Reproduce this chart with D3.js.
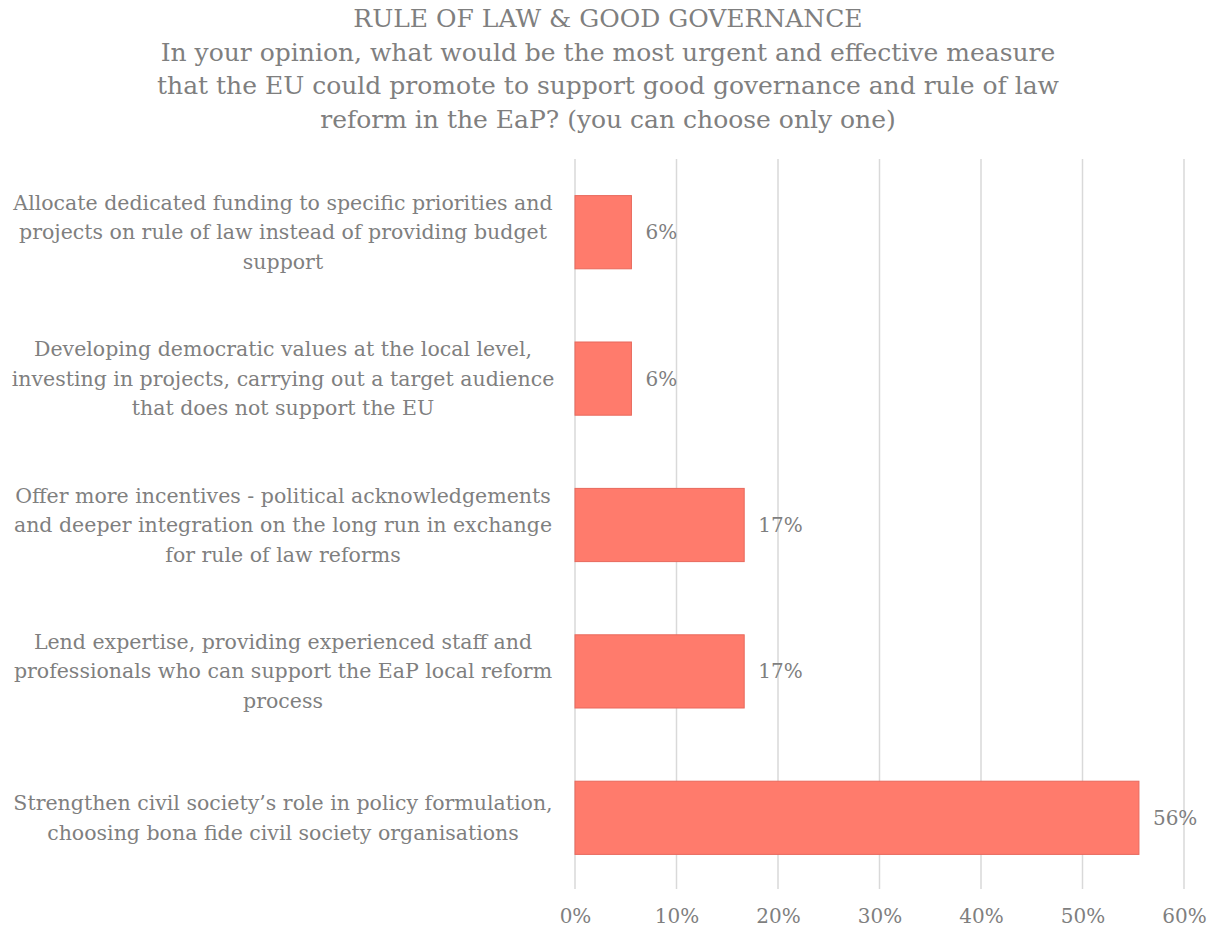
<!DOCTYPE html>
<html><head><meta charset="utf-8">
<script src="https://cdn.jsdelivr.net/npm/d3@7"></script>
<style>body{margin:0;background:#fff}text{font-family:"DejaVu Serif",serif;fill:#7f7f7f}</style>
</head><body><svg id="c" width="1217" height="931"></svg>
<script>
const titleLines = ["RULE OF LAW & GOOD GOVERNANCE","In your opinion, what would be the most urgent and effective measure","that the EU could promote to support good governance and rule of law","reform in the EaP? (you can choose only one)"];
const categories = [
 ["Allocate dedicated funding to specific priorities and","projects on rule of law instead of providing budget","support"],
 ["Developing democratic values at the local level,","investing in projects, carrying out a target audience","that does not support the EU"],
 ["Offer more incentives - political acknowledgements","and deeper integration on the long run in exchange","for rule of law reforms"],
 ["Lend expertise, providing experienced staff and","professionals who can support the EaP local reform","process"],
 ["Strengthen civil society’s role in policy formulation,","choosing bona fide civil society organisations"]
];
const values = [0.0556, 0.0556, 0.1667, 0.1667, 0.5556];
const ticks = [0,0.1,0.2,0.3,0.4,0.5,0.6];

const svg = d3.select("#c");
const x = d3.scaleLinear().domain([0,0.6]).range([575,1184]);
const y = d3.scaleBand().domain(d3.range(categories.length)).range([159,891]).paddingInner(0.5).paddingOuter(0.25);

svg.append("g").selectAll("text").data(titleLines).join("text")
 .attr("x",608).attr("y",(d,i)=>27+i*33.7).attr("text-anchor","middle").attr("font-size",25).text(d=>d);

svg.append("g").selectAll("line").data(ticks).join("line")
 .attr("x1",d=>x(d)).attr("x2",d=>x(d)).attr("y1",159).attr("y2",889)
 .attr("stroke","#d9d9d9").attr("stroke-width",1.5);

const axis = d3.axisBottom(x).tickValues(ticks).tickFormat(d3.format(".0%")).tickSize(0).tickPadding(0);
const ag = svg.append("g").attr("transform","translate(0,923)").call(axis);
ag.select(".domain").remove();
ag.selectAll("text").attr("font-size",20).attr("dy",0).attr("fill","#7f7f7f").style("font-family","DejaVu Serif");

svg.append("g").selectAll("rect").data(values).join("rect")
 .attr("x",x(0)).attr("y",(d,i)=>y(i)).attr("width",d=>x(d)-x(0)).attr("height",y.bandwidth())
 .attr("fill","#FF7B6C").attr("stroke","#E8695C").attr("stroke-width",1);

svg.append("g").selectAll("text").data(values).join("text")
 .attr("x",d=>x(d)+14).attr("y",(d,i)=>y(i)+y.bandwidth()/2+7).attr("font-size",20)
 .text(d=>d3.format(".0%")(d));

const lg = svg.append("g");
categories.forEach((lines,i)=>{
 const cy = y(i)+y.bandwidth()/2;
 const lh = 29.5;
 const y0 = cy - (lines.length-1)*lh/2 + 7;
 lg.append("text").attr("text-anchor","middle").attr("font-size",20.5)
  .selectAll("tspan").data(lines).join("tspan").attr("x",283).attr("y",(d,j)=>y0+j*lh).text(d=>d);
});
</script></body></html>
